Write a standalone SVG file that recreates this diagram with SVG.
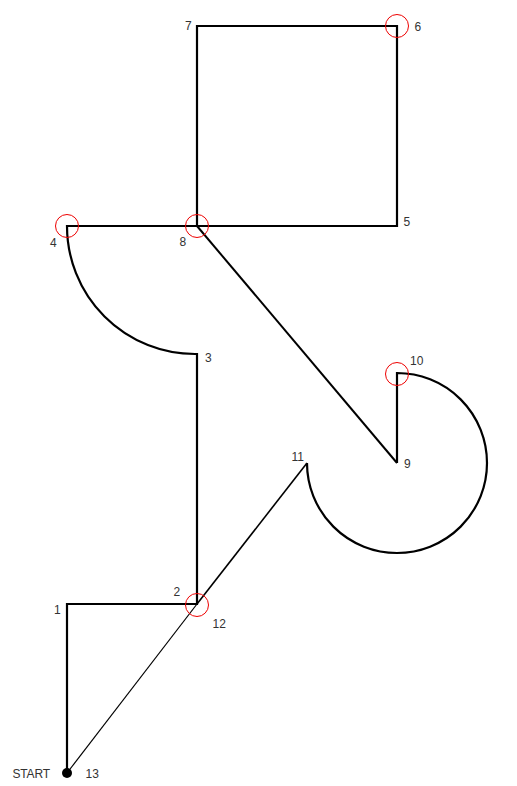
<svg xmlns="http://www.w3.org/2000/svg" width="517" height="786" viewBox="0 0 517 786">
<style>
.lbl{font-family:"Liberation Sans",Arial,sans-serif;font-size:12px;fill:#333}
.mark{fill:none;stroke:#e00;stroke-width:1}
.thick{fill:none;stroke:#000;stroke-width:2.2;stroke-linejoin:miter}
.mid{fill:none;stroke:#000;stroke-width:2}
.mid2{fill:none;stroke:#000;stroke-width:1.6}
.thin{fill:none;stroke:#000;stroke-width:1.2}
</style>
<rect width="517" height="786" fill="#fff"/>
<g id="connectors">
<path class="thick" d="M67 773 L67 604 L197 604 L197 354 L195 354 A128 128 0 0 1 67 226 L397 226 L397 26 L197 26 L197 226"/>
<path class="mid" d="M197 226 L397 463"/>
<path class="thick" d="M397 463 L397 373 A90 90 0 1 1 307 463"/>
<path class="mid2" d="M307 463 L197 604"/>
<path class="thin" d="M197 604 L67 773"/>
</g>
<g id="node-start"><circle cx="67" cy="773" r="5" fill="#000"/><text class="lbl" x="12.5" y="777.5" textLength="37.5">START</text></g>
<g id="node-1"><text class="lbl" x="54" y="613.5">1</text></g>
<g id="node-2"><text class="lbl" x="173.5" y="596">2</text></g>
<g id="node-3"><text class="lbl" x="205" y="362">3</text></g>
<g id="node-4"><circle class="mark" cx="67" cy="226" r="11.5"/><text class="lbl" x="50" y="247">4</text></g>
<g id="node-5"><text class="lbl" x="403.5" y="226">5</text></g>
<g id="node-6"><circle class="mark" cx="397" cy="26" r="11.5"/><text class="lbl" x="414.5" y="31">6</text></g>
<g id="node-7"><text class="lbl" x="185" y="30">7</text></g>
<g id="node-8"><circle class="mark" cx="197" cy="226" r="11.5"/><text class="lbl" x="179.5" y="246">8</text></g>
<g id="node-9"><text class="lbl" x="404" y="468">9</text></g>
<g id="node-10"><circle class="mark" cx="397" cy="374" r="11.5"/><text class="lbl" x="410" y="364.5">10</text></g>
<g id="node-11"><text class="lbl" x="291.5" y="461">11</text></g>
<g id="node-12"><circle class="mark" cx="197" cy="605" r="11.5"/><text class="lbl" x="212.5" y="628">12</text></g>
<g id="node-13"><text class="lbl" x="85.5" y="777.5">13</text></g>
</svg>
